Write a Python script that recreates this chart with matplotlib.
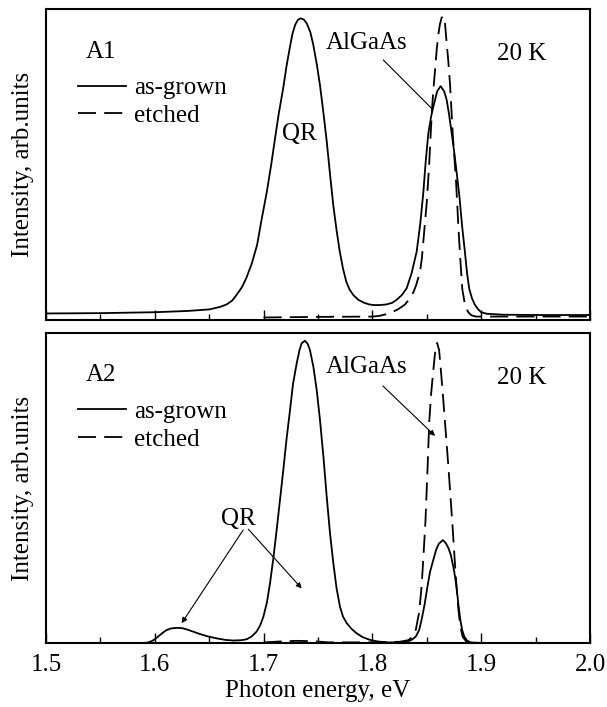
import matplotlib
matplotlib.use("Agg")
import matplotlib.pyplot as plt

plt.rcParams['font.family'] = ['Liberation Serif', 'DejaVu Serif']
plt.rcParams['font.size'] = 18

# ---------------- data (photon energy, eV / intensity) -------------

# A1, as-grown (solid)
e_a1_grown = [1.50, 1.55, 1.60, 1.63, 1.65, 1.66, 1.666, 1.671, 1.675, 1.680,
              1.684, 1.689, 1.694, 1.698, 1.703, 1.707, 1.7105, 1.714, 1.718, 1.721,
              1.724, 1.7265, 1.729, 1.7315, 1.734, 1.737, 1.7396, 1.743, 1.7457, 1.749,
              1.752, 1.755, 1.758, 1.761, 1.764, 1.767, 1.770, 1.773, 1.776, 1.779,
              1.7825, 1.787, 1.792, 1.797, 1.801, 1.807, 1.813, 1.818, 1.822, 1.827,
              1.8315, 1.836, 1.8407, 1.844, 1.8468, 1.849, 1.8514, 1.854, 1.856, 1.8595,
              1.8627, 1.866, 1.8683, 1.8705, 1.8729, 1.875, 1.8768, 1.880, 1.8825, 1.885,
              1.887, 1.889, 1.8915, 1.894, 1.897, 1.900, 1.905, 1.92, 1.95, 2.0]
i_a1_grown = [0.021, 0.022, 0.025, 0.029, 0.034, 0.042, 0.050, 0.062, 0.080, 0.105,
              0.134, 0.180, 0.241, 0.320, 0.413, 0.500, 0.584, 0.665, 0.745, 0.815,
              0.874, 0.920, 0.949, 0.965, 0.970, 0.966, 0.954, 0.925, 0.884, 0.820,
              0.750, 0.665, 0.575, 0.470, 0.370, 0.290, 0.220, 0.165, 0.123, 0.098,
              0.080, 0.065, 0.056, 0.050, 0.048, 0.048, 0.050, 0.055, 0.064, 0.080,
              0.102, 0.150, 0.220, 0.310, 0.410, 0.510, 0.600, 0.655, 0.686, 0.735,
              0.752, 0.735, 0.707, 0.660, 0.600, 0.545, 0.493, 0.396, 0.300, 0.220,
              0.150, 0.100, 0.070, 0.050, 0.035, 0.025, 0.020, 0.017, 0.016, 0.016]

# A1, etched (dashed)
e_a1_etched = [1.70, 1.75, 1.80, 1.806, 1.812, 1.817, 1.8223, 1.826, 1.830, 1.8346,
               1.8375, 1.840, 1.8438, 1.8455, 1.847, 1.8485, 1.850, 1.852, 1.8536, 1.855,
               1.8565, 1.858, 1.8591, 1.8605, 1.862, 1.8636, 1.8652, 1.8667, 1.868, 1.8697,
               1.8713, 1.8725, 1.8738, 1.8753, 1.8768, 1.878, 1.879, 1.8808, 1.8826, 1.885,
               1.888, 1.891, 1.895, 1.95, 2.0]
i_a1_etched = [0.008, 0.010, 0.011, 0.013, 0.018, 0.024, 0.032, 0.040, 0.050, 0.070,
               0.088, 0.110, 0.155, 0.200, 0.260, 0.320, 0.380, 0.490, 0.600, 0.690,
               0.760, 0.820, 0.870, 0.915, 0.950, 0.972, 0.977, 0.955, 0.900, 0.835,
               0.760, 0.685, 0.600, 0.525, 0.450, 0.370, 0.300, 0.195, 0.100, 0.050,
               0.025, 0.015, 0.011, 0.011, 0.011]

# A2, as-grown (solid)
e_a2_grown = [1.50, 1.59, 1.594, 1.597, 1.600, 1.6048, 1.608, 1.611, 1.615, 1.620,
              1.625, 1.6293, 1.635, 1.6415, 1.649, 1.6569, 1.665, 1.6722, 1.679, 1.6844,
              1.689, 1.6936, 1.697, 1.6998, 1.703, 1.7059, 1.709, 1.712, 1.715, 1.7181,
              1.721, 1.7243, 1.727, 1.7304, 1.733, 1.735, 1.738, 1.7405, 1.7426, 1.7458,
              1.7488, 1.7518, 1.755, 1.758, 1.761, 1.7641, 1.767, 1.7702, 1.773, 1.7764,
              1.781, 1.7856, 1.791, 1.7978, 1.805, 1.8131, 1.822, 1.8315, 1.836, 1.8399,
              1.843, 1.8452, 1.848, 1.8506, 1.853, 1.8559, 1.8585, 1.861, 1.8648, 1.8675,
              1.870, 1.872, 1.875, 1.8773, 1.879, 1.8808, 1.8825, 1.8844, 1.887, 1.8897,
              1.90, 2.0]
i_a2_grown = [0.0, 0.0, 0.002, 0.006, 0.012, 0.026, 0.035, 0.042, 0.047, 0.049,
              0.048, 0.044, 0.037, 0.029, 0.021, 0.015, 0.010, 0.008, 0.009, 0.012,
              0.021, 0.037, 0.058, 0.085, 0.130, 0.193, 0.275, 0.365, 0.460, 0.558,
              0.655, 0.752, 0.835, 0.902, 0.945, 0.967, 0.975, 0.965, 0.945, 0.890,
              0.816, 0.720, 0.600, 0.472, 0.355, 0.257, 0.178, 0.117, 0.085, 0.064,
              0.045, 0.031, 0.019, 0.010, 0.005, 0.002, 0.002, 0.004, 0.010, 0.021,
              0.042, 0.075, 0.125, 0.182, 0.230, 0.267, 0.300, 0.320, 0.332, 0.322,
              0.305, 0.285, 0.235, 0.182, 0.125, 0.075, 0.042, 0.021, 0.008, 0.002,
              0.0, 0.0]

# A2, etched (dashed)
e_a2_etched = [1.70, 1.715, 1.73, 1.745, 1.76, 1.80, 1.825, 1.8328, 1.837, 1.8399,
               1.843, 1.8452, 1.847, 1.8488, 1.8506, 1.8523, 1.854, 1.8559, 1.8577, 1.8595,
               1.8613, 1.863, 1.8648, 1.8666, 1.8683, 1.8701, 1.8719, 1.8737, 1.8755, 1.8773,
               1.879, 1.8808, 1.883, 1.8862, 1.90]
i_a2_etched = [0.002, 0.005, 0.007, 0.006, 0.002, 0.002, 0.004, 0.009, 0.020, 0.043,
               0.100, 0.182, 0.285, 0.396, 0.556, 0.717, 0.805, 0.877, 0.940, 0.968,
               0.945, 0.877, 0.800, 0.717, 0.640, 0.556, 0.465, 0.374, 0.275, 0.182,
               0.110, 0.053, 0.020, 0.005, 0.0]

x_ticks = [1.5, 1.6, 1.7, 1.8, 1.9, 2.0]
x_minor = [1.55, 1.65, 1.75, 1.85, 1.95]

# ---------------- figure ----------------
fig = plt.figure(figsize=(6.07, 7.07), dpi=100)
ax_top = fig.add_axes([0.0758, 0.5474, 0.8962, 0.4399])
ax_bot = fig.add_axes([0.0758, 0.0905, 0.8962, 0.4385])

dash = (0, (10, 4.5))
panels = [
    (ax_top, e_a1_grown, i_a1_grown, e_a1_etched, i_a1_etched, 'A1'),
    (ax_bot, e_a2_grown, i_a2_grown, e_a2_etched, i_a2_etched, 'A2'),
]

for ax, eg, ig, ee, ie, name in panels:
    l1, = ax.plot(eg, ig, color='black', lw=1.3)
    l2, = ax.plot(ee, ie, color='black', lw=1.3, linestyle=dash)
    ax.set_xlim(1.5, 2.0)
    ax.set_ylim(0, 1.0)
    ax.set_yticks([])
    ax.set_xticks(x_ticks)
    ax.set_xticks(x_minor, minor=True)
    ax.tick_params(axis='x', which='major', direction='in', length=7, width=1.0,
                   top=False, pad=8, labelsize=18)
    ax.tick_params(axis='x', which='minor', direction='in', length=4, width=1.0,
                   top=False)
    for sp in ax.spines.values():
        sp.set_linewidth(1.5)
    ax.set_ylabel('Intensity, arb.units', fontsize=18)
    ax.yaxis.set_label_coords(-0.022, 0.5)
    ax.text(1.5368, 0.863, name, ha='left', va='center', fontsize=18)
    ax.text(1.9145, 0.855, '20 K', ha='left', va='center', fontsize=18)
    ax.text(1.7945, 0.89, 'AlGaAs', ha='center', va='center', fontsize=18)
    ax.legend([l1, l2], ['as-grown', 'etched'], loc='upper left',
              bbox_to_anchor=(0.059, 0.782), frameon=False, fontsize=18,
              handlelength=1.9, handletextpad=0.35, labelspacing=0.2,
              borderpad=0, borderaxespad=0)

ax_top.tick_params(axis='x', labelbottom=False)

# top panel labels
ax_top.text(1.7325, 0.598, 'QR', ha='center', va='center', fontsize=18)
ax_top.annotate('', xy=(1.8554, 0.677), xytext=(1.810, 0.836),
                arrowprops=dict(arrowstyle='-', lw=0.8, color='black',
                                shrinkA=0, shrinkB=0))

# bottom panel labels
ax_bot.text(1.6765, 0.40, 'QR', ha='center', va='center', fontsize=18)
arrow = dict(arrowstyle='-|>', lw=0.8, color='black', mutation_scale=8,
             shrinkA=0, shrinkB=0)
ax_bot.annotate('', xy=(1.8576, 0.668), xytext=(1.8097, 0.829), arrowprops=arrow)
ax_bot.annotate('', xy=(1.6247, 0.064), xytext=(1.6813, 0.365), arrowprops=arrow)
ax_bot.annotate('', xy=(1.735, 0.176), xytext=(1.686, 0.367), arrowprops=arrow)

ax_bot.set_xlabel('Photon energy, eV', fontsize=18, labelpad=3)

fig.savefig('out.png', dpi=100)
